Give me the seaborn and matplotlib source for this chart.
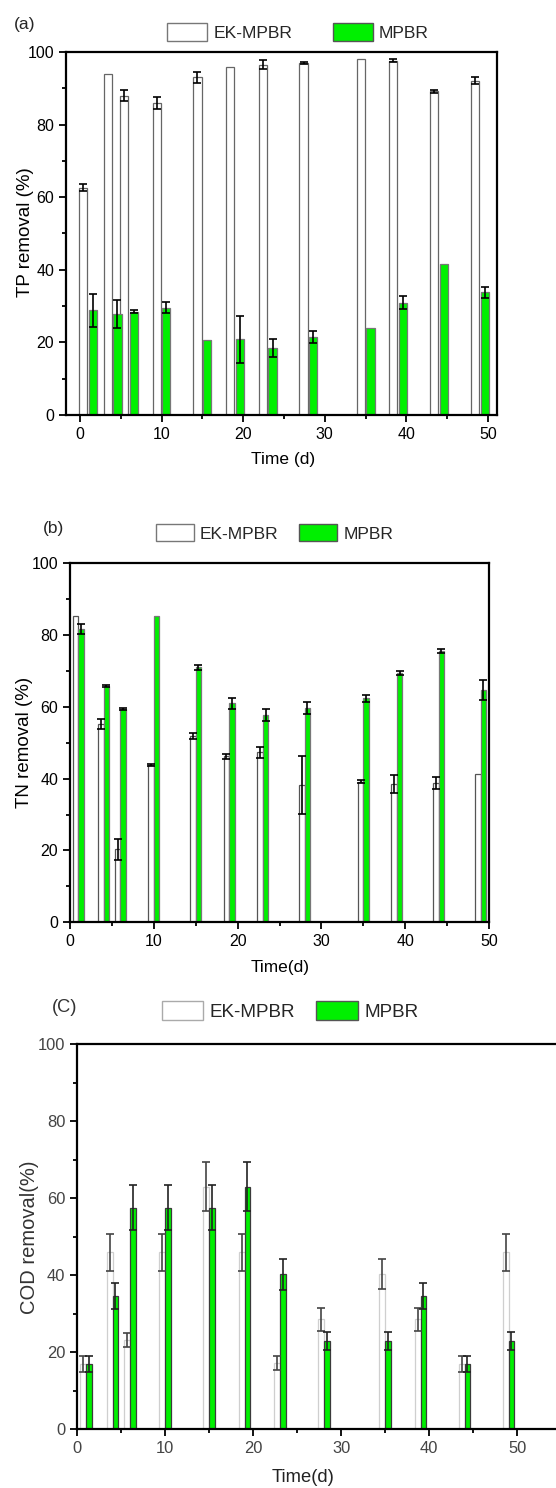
import numpy as np
import pandas as pd
import matplotlib
matplotlib.use("Agg")
import matplotlib.pyplot as plt
from matplotlib.patches import Patch
import seaborn as sns

nan = np.nan
days = [1, 4, 6, 10, 15, 19, 23, 28, 35, 39, 44, 49]
groups = ["EK-MPBR", "MPBR"]

tp_ek = [62.6, 94.0, 88.0, 85.9, 93.0, 95.9, 96.5, 96.9, 98.0, 97.6, 89.2, 92.1]
tp_ek_err = [1.0, nan, 1.6, 1.6, 1.5, nan, 1.3, 0.3, nan, 0.4, 0.4, 1.0]
tp_mp = [28.8, 27.9, 28.5, 29.6, 20.7, 20.8, 18.5, 21.4, 24.1, 30.9, 41.7, 33.8]
tp_mp_err = [4.6, 3.9, 0.3, 1.5, nan, 6.4, 2.5, 1.7, nan, 1.8, nan, 1.5]

tn_ek = [85.2, 55.2, 20.3, 43.9, 51.9, 46.2, 47.4, 38.3, 39.2, 38.5, 38.8, 41.2]
tn_ek_err = [nan, 1.3, 3.0, 0.3, 0.9, 0.8, 1.5, 8.0, 0.3, 2.6, 1.7, nan]
tn_mp = [81.7, 65.8, 59.3, 85.4, 71.0, 61.0, 57.8, 59.8, 62.4, 69.4, 75.5, 64.7]
tn_mp_err = [1.3, 0.3, 0.3, nan, 0.8, 1.5, 1.7, 1.7, 0.9, 0.5, 0.5, 2.7]

cod_ek = [17.0, 46.0, 23.2, 46.0, 63.0, 46.0, 17.2, 28.6, 40.3, 28.6, 17.0, 46.0]
cod_ek_err = [2.0, 4.8, 1.8, 4.8, 6.3, 4.8, 1.7, 3.0, 4.0, 3.0, 2.0, 4.8]
cod_mp = [17.0, 34.6, 57.5, 57.5, 57.5, 63.0, 40.2, 22.9, 22.9, 34.6, 17.0, 22.9]
cod_mp_err = [2.0, 3.5, 5.8, 5.8, 5.8, 6.3, 4.0, 2.4, 2.4, 3.5, 2.0, 2.4]

GREEN = "#00f000"

sns.set_theme(style="ticks")
plt.rcParams["font.family"] = ["Liberation Sans", "DejaVu Sans"]

W, H = 556, 1488
fig = plt.figure(figsize=(W / 100, H / 100), dpi=100)


def px_axes(l, t, r, b):
    return fig.add_axes([l / W, 1 - b / H, (r - l) / W, (b - t) / H])


def panel(ax, ek, ek_err, mp, mp_err, width, gap, ek_edge, mp_edge, ek_ecol, mp_ecol,
          xlim, ylabel, xlabel, ylsize, xlsize, ticksize, tickcolor, ylc, xlc):
    df = pd.DataFrame({
        "day": days * 2,
        "val": list(ek) + list(mp),
        "group": [groups[0]] * len(days) + [groups[1]] * len(days),
    })
    sns.barplot(data=df, x="day", y="val", hue="group", hue_order=groups,
                palette={groups[0]: "white", groups[1]: GREEN},
                native_scale=True, width=width, gap=gap, errorbar=None,
                legend=False, ax=ax, saturation=1)
    edges = [ek_edge, mp_edge]
    for ci, cont in enumerate(ax.containers):
        for p in cont.patches:
            p.set_edgecolor(edges[ci])
            p.set_linewidth(0.9)
    errs = [ek_err, mp_err]
    ecols = [ek_ecol, mp_ecol]
    for ci, cont in enumerate(ax.containers[:2]):
        xs = np.array([p.get_x() + p.get_width() / 2 for p in cont.patches])
        hs = np.array([p.get_height() for p in cont.patches])
        e = np.array(errs[ci], dtype=float)
        m = np.isfinite(e)
        ax.errorbar(xs[m], hs[m], yerr=e[m], fmt="none", ecolor=ecols[ci],
                    elinewidth=1.2, capsize=3, capthick=1.2, zorder=5)
    ax.set_xlim(*xlim)
    ax.set_ylim(0, 100)
    ax.set_xticks([0, 10, 20, 30, 40, 50])
    ax.set_xticks([5, 15, 25, 35, 45], minor=True)
    ax.set_yticks([0, 20, 40, 60, 80, 100])
    ax.set_yticks([10, 30, 50, 70, 90], minor=True)
    ax.set_xticklabels(["0", "10", "20", "30", "40", "50"])
    ax.set_yticklabels(["0", "20", "40", "60", "80", "100"])
    ax.tick_params(which="major", direction="out", length=5, width=1.3,
                   labelsize=ticksize, labelcolor=tickcolor, color="black")
    ax.tick_params(which="minor", direction="out", length=3, width=1.3, color="black")
    for s in ax.spines.values():
        s.set_visible(True)
        s.set_linewidth(1.6)
        s.set_color("black")
    ax.set_ylabel(ylabel, fontsize=ylsize, color="black")
    ax.set_xlabel(xlabel, fontsize=xlsize, color="black")
    ax.yaxis.set_label_coords(*ylc)
    ax.xaxis.set_label_coords(*xlc)


def legend(ax, cx, cy, fs, ek_edge, mp_edge, colsp, hl):
    handles = [Patch(facecolor="white", edgecolor=ek_edge, linewidth=1.0),
               Patch(facecolor=GREEN, edgecolor=mp_edge, linewidth=1.0)]
    ax.legend(handles, groups, loc="center", bbox_to_anchor=(cx / W, 1 - cy / H),
              bbox_transform=fig.transFigure, ncol=2, frameon=False, fontsize=fs,
              handlelength=hl, handleheight=1.15, handletextpad=0.35,
              columnspacing=colsp, borderaxespad=0, borderpad=0)


# Panel (a)
axa = px_axes(66, 52, 497, 415)
panel(axa, tp_ek, tp_ek_err, tp_mp, tp_mp_err, 1.2, 0.167, "#666666", "#777777",
      "black", "black", (-1.7, 51.1), "TP removal (%)", "Time (d)", 13.5, 12.5, 11.5, "black",
      (-0.074, 0.504), (0.503, -0.102))
legend(axa, 298, 32, 12.6, "#777777", "#555555", 2.3, 2.3)
fig.text(14 / W, 1 - 25 / H, "(a)", fontsize=12.6, va="center", ha="left")

# Panel (b)
axb = px_axes(70, 563.3, 489, 922.3)
panel(axb, tn_ek, tn_ek_err, tn_mp, tn_mp_err, 0.66, 0.0, "#555555", "#777777",
      "black", "black", (0, 50), "TN removal (%)", "Time(d)", 13.5, 12.4, 11.5, "black",
      (-0.088, 0.5), (0.501, -0.105))
legend(axb, 274.5, 533, 12.5, "#777777", "#555555", 1.2, 2.2)
fig.text(43 / W, 1 - 528 / H, "(b)", fontsize=12.5, va="center", ha="left")

# Panel (c)
axc = px_axes(77.3, 1044, 77.3 + 55 * 8.8, 1429.3)
panel(axc, cod_ek, cod_ek_err, cod_mp, cod_mp_err, 0.66, 0.0, "#cfcfcf", "#3a3a3a",
      "#444444", "#222222", (0, 55), "COD removal(%)", "Time(d)", 14.5, 13.2, 11.9, "#444444",
      (-0.079, 0.499), (0.466, -0.103))
axc.yaxis.label.set_color("#333333")
axc.xaxis.label.set_color("#222222")
legend(axc, 290, 1011, 13.6, "#aaaaaa", "#555555", 1.1, 2.2)
fig.text(52 / W, 1 - 1007 / H, "(C)", fontsize=13.2, va="center", ha="left", color="#333333")

fig.savefig("out.png", dpi=100)
